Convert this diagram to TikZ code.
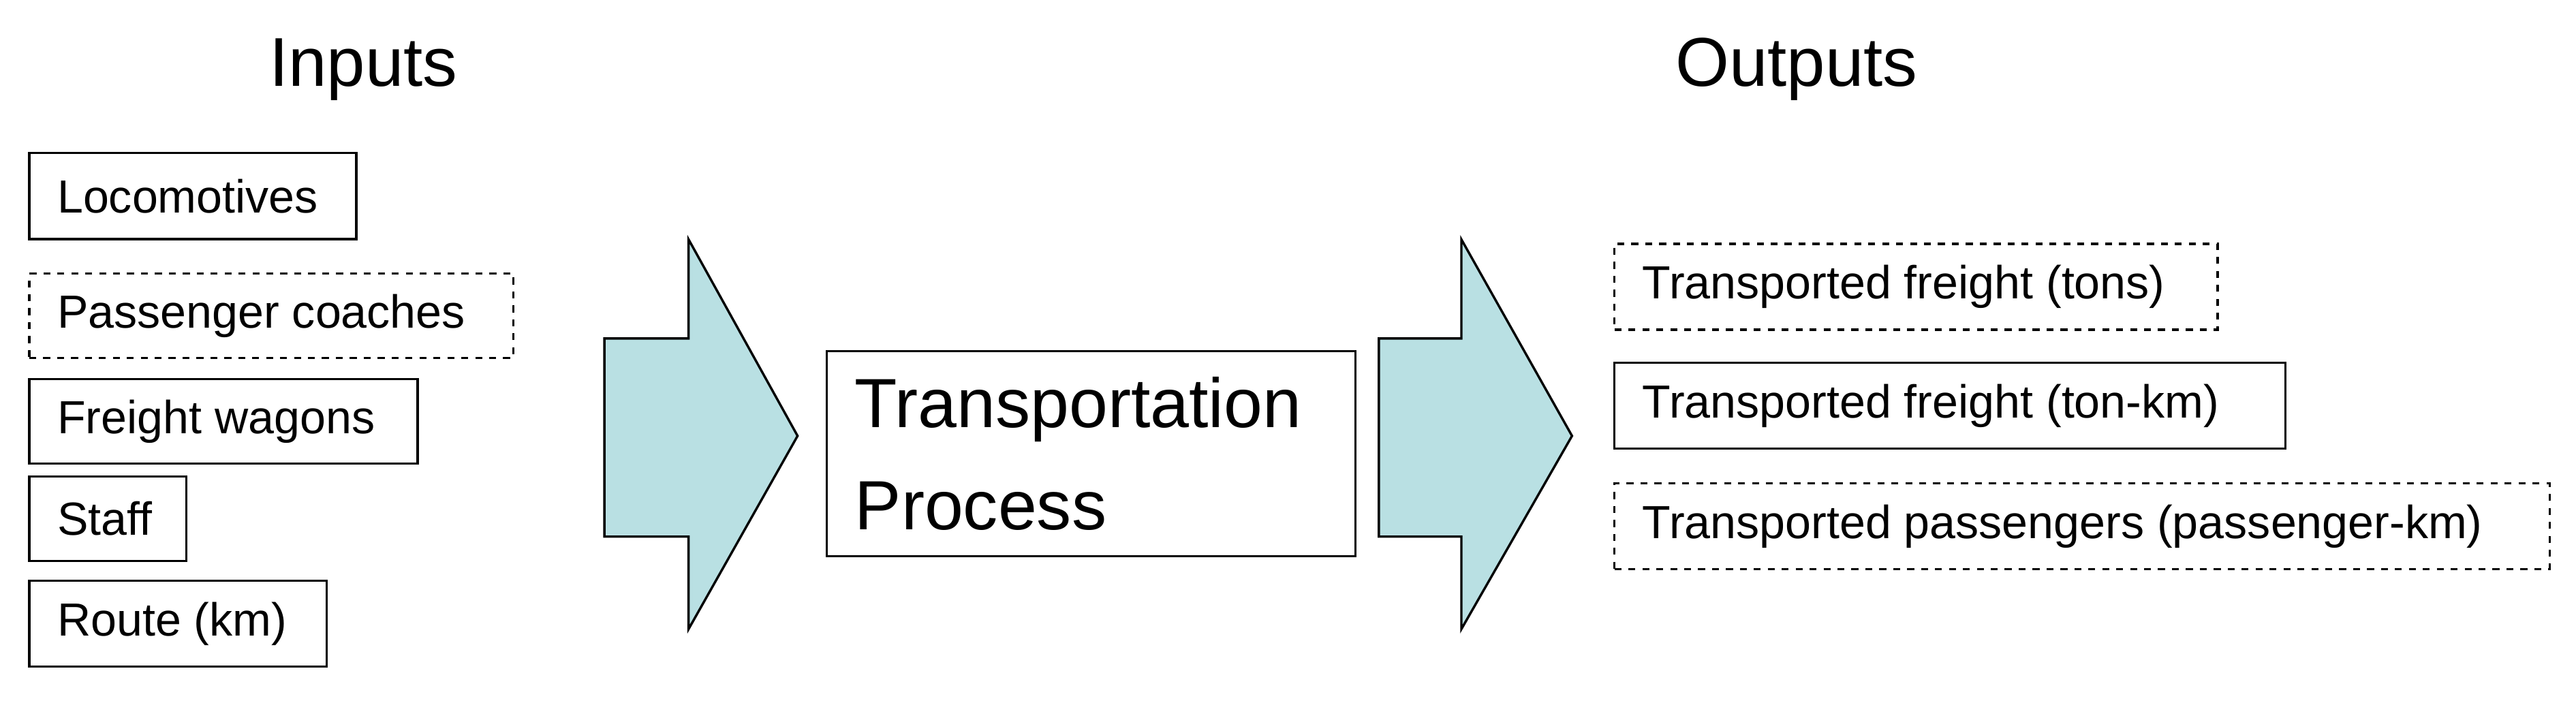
\documentclass[tikz,border=0pt]{standalone}
\usepackage{fontspec}
\setmainfont{Liberation Sans}
\begin{document}
\begin{tikzpicture}[x=0.01cm,y=-0.01cm,
  box/.style={draw,line width=0.4pt,anchor=north west,inner xsep=0pt,inner ysep=0pt,font=\fontsize{8}{9.6}\selectfont},
  dbox/.style={box,dash pattern=on 1.2pt off 1.2pt},
  arr/.style={draw,line width=0.4pt,fill=arrowfill},
  ttl/.style={font=\fontsize{11.9}{14}\selectfont}]
\definecolor{arrowfill}{HTML}{B9E0E3}
\useasboundingbox (0,0) rectangle (1560,425.4);
\newcommand{\bx}[7]{\node[#6,minimum width=#4mm,minimum height=#5mm] (#1) at (#2,#3) {};
  \node[anchor=west,inner sep=0pt,font=\fontsize{8}{9.6}\selectfont] (#1t) at ([xshift=1.7mm]#1.west) {#7};}
\node[ttl] (in) at (220,42) {Inputs};
\node[ttl] (out) at (1088,42) {Outputs};
\bx{a}{17}{92}{19.8}{5.2}{box}{Locomotives}
\bx{b}{17}{165}{29.3}{5.1}{dbox}{Passenger coaches}
\bx{c}{17}{229}{23.5}{5.1}{box}{Freight wagons}
\bx{d}{17}{288}{9.5}{5.1}{box}{Staff}
\bx{e}{17}{351}{18.0}{5.2}{box}{Route (km)}
\path[arr] (366,205) -- (417,205) -- (417,145) -- (483,264) -- (417,381) -- (417,325) -- (366,325) -- cycle;
\node[box,minimum width=32mm,minimum height=12.4mm] (p) at (500,212) {};
\node[anchor=west,align=left,inner sep=0pt,font=\fontsize{12}{17.5}\selectfont] (pt) at ([xshift=1.7mm]p.west) {Transportation\\Process};
\path[arr] (835,205) -- (885,205) -- (885,145) -- (952,264) -- (885,381) -- (885,325) -- (835,325) -- cycle;
\bx{f}{977}{147}{36.5}{5.2}{dbox}{Transported freight (tons)}
\bx{g}{977}{219}{40.6}{5.2}{box}{Transported freight (ton-km)}
\bx{h}{977}{292}{56.6}{5.2}{dbox}{Transported passengers (passenger-km)}
\end{tikzpicture}
\end{document}
